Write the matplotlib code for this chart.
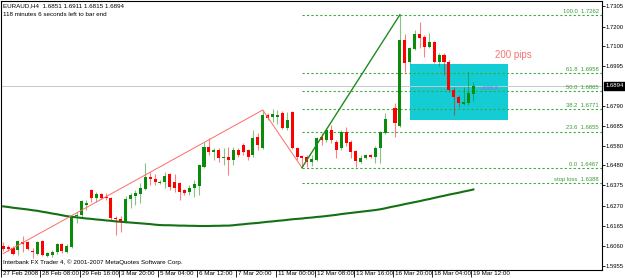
import matplotlib
matplotlib.use("Agg")
import matplotlib.pyplot as plt
import matplotlib.transforms as mtransforms
from matplotlib.patches import Rectangle

plt.rcParams['font.family'] = ['Liberation Sans', 'DejaVu Sans']

# EURAUD H4 candles (bar 0 = 27 Feb 2008 00:00)
opens = [1.6060, 1.6055, 1.6049, 1.6039, 1.6081, 1.6081, 1.6034, 1.6018, 1.6086, 1.6008,
         1.6013, 1.6029, 1.6070, 1.6029, 1.6055, 1.6216, 1.6221, 1.6273, 1.6351, 1.6309,
         1.6330, 1.6315, 1.6309, 1.6205, 1.6200, 1.6185, 1.6304, 1.6320, 1.6330, 1.6356,
         1.6419, 1.6408, 1.6387, 1.6393, 1.6434, 1.6393, 1.6387, 1.6351, 1.6341, 1.6361,
         1.6372, 1.6471, 1.6575, 1.6549, 1.6559, 1.6517, 1.6523, 1.6507, 1.6559, 1.6585,
         1.6559, 1.6533, 1.6627, 1.6569, 1.6741, 1.6731, 1.6731, 1.6751, 1.6673, 1.6757,
         1.6569, 1.6528, 1.6523, 1.6497, 1.6507, 1.6627, 1.6611, 1.6663, 1.6601, 1.6569,
         1.6653, 1.6601, 1.6554, 1.6497, 1.6517, 1.6533, 1.6523, 1.6569, 1.6647, 1.6720,
         1.6777, 1.6684, 1.7131, 1.7017, 1.7084, 1.7162, 1.7147, 1.7095, 1.7121, 1.7017,
         1.7053, 1.7017, 1.6871, 1.6835, 1.6798, 1.6803, 1.6851]
highs = [1.6081, 1.6065, 1.6060, 1.6091, 1.6112, 1.6086, 1.6049, 1.6086, 1.6091, 1.6029,
         1.6039, 1.6075, 1.6075, 1.6070, 1.6216, 1.6237, 1.6299, 1.6299, 1.6356, 1.6341,
         1.6335, 1.6335, 1.6315, 1.6216, 1.6216, 1.6320, 1.6335, 1.6351, 1.6387, 1.6491,
         1.6445, 1.6434, 1.6403, 1.6445, 1.6439, 1.6434, 1.6393, 1.6356, 1.6377, 1.6403,
         1.6486, 1.6601, 1.6621, 1.6569, 1.6569, 1.6569, 1.6575, 1.6575, 1.6569, 1.6595,
         1.6564, 1.6663, 1.6647, 1.6767, 1.6751, 1.6772, 1.6767, 1.6762, 1.6757, 1.6762,
         1.6575, 1.6533, 1.6533, 1.6533, 1.6627, 1.6647, 1.6673, 1.6689, 1.6611, 1.6663,
         1.6679, 1.6611, 1.6559, 1.6533, 1.6538, 1.6538, 1.6580, 1.6658, 1.6751, 1.6722,
         1.6803, 1.7262, 1.7162, 1.7095, 1.7183, 1.7225, 1.7157, 1.7167, 1.7126, 1.7063,
         1.7063, 1.7027, 1.6887, 1.6845, 1.6887, 1.6965, 1.6911]
lows = [1.6034, 1.6034, 1.6013, 1.6013, 1.6029, 1.6039, 1.5997, 1.6013, 1.6008, 1.6003,
        1.6003, 1.6018, 1.6023, 1.6023, 1.6049, 1.6179, 1.6211, 1.6247, 1.6289, 1.6289,
        1.6304, 1.6299, 1.6195, 1.6117, 1.6133, 1.6179, 1.6257, 1.6273, 1.6283, 1.6351,
        1.6377, 1.6377, 1.6382, 1.6361, 1.6351, 1.6341, 1.6299, 1.6325, 1.6325, 1.6315,
        1.6325, 1.6465, 1.6533, 1.6507, 1.6497, 1.6481, 1.6429, 1.6481, 1.6523, 1.6533,
        1.6507, 1.6523, 1.6559, 1.6564, 1.6715, 1.6705, 1.6694, 1.6668, 1.6663, 1.6564,
        1.6507, 1.6467, 1.6471, 1.6476, 1.6502, 1.6585, 1.6601, 1.6595, 1.6517, 1.6559,
        1.6580, 1.6517, 1.6471, 1.6491, 1.6512, 1.6517, 1.6491, 1.6491, 1.6642, 1.6718,
        1.6627, 1.6679, 1.6965, 1.7006, 1.7079, 1.7089, 1.7043, 1.7089, 1.7011, 1.6996,
        1.6949, 1.6861, 1.6741, 1.6783, 1.6793, 1.6793, 1.6815]
closes = [1.6044, 1.6044, 1.6018, 1.6086, 1.6070, 1.6044, 1.6029, 1.6081, 1.6013, 1.6023,
          1.6029, 1.6070, 1.6034, 1.6060, 1.6211, 1.6221, 1.6294, 1.6283, 1.6309, 1.6330,
          1.6309, 1.6309, 1.6205, 1.6200, 1.6190, 1.6304, 1.6325, 1.6335, 1.6361, 1.6419,
          1.6408, 1.6393, 1.6393, 1.6424, 1.6367, 1.6361, 1.6341, 1.6335, 1.6361, 1.6382,
          1.6481, 1.6575, 1.6549, 1.6559, 1.6517, 1.6523, 1.6507, 1.6559, 1.6533, 1.6549,
          1.6523, 1.6621, 1.6585, 1.6741, 1.6725, 1.6746, 1.6741, 1.6673, 1.6715, 1.6569,
          1.6523, 1.6517, 1.6497, 1.6512, 1.6621, 1.6611, 1.6663, 1.6611, 1.6559, 1.6653,
          1.6595, 1.6549, 1.6502, 1.6517, 1.6533, 1.6523, 1.6569, 1.6653, 1.6720, 1.6720,
          1.6699, 1.7131, 1.7011, 1.7089, 1.7162, 1.7141, 1.7095, 1.7121, 1.7017, 1.7053,
          1.7017, 1.6871, 1.6835, 1.6803, 1.6809, 1.6855, 1.6894]

# moving average line, read at each bar
ma = [1.6266, 1.6263, 1.6259, 1.6256, 1.6253, 1.6250, 1.6246, 1.6243, 1.6238, 1.6234,
      1.6229, 1.6225, 1.6220, 1.6215, 1.6212, 1.6209, 1.6206, 1.6203, 1.6201, 1.6198,
      1.6196, 1.6193, 1.6191, 1.6188, 1.6186, 1.6184, 1.6182, 1.6180, 1.6178, 1.6176,
      1.6174, 1.6171, 1.6169, 1.6168, 1.6168, 1.6167, 1.6166, 1.6166, 1.6165, 1.6165,
      1.6164, 1.6164, 1.6164, 1.6165, 1.6165, 1.6166, 1.6166, 1.6168, 1.6171, 1.6173,
      1.6176, 1.6178, 1.6180, 1.6183, 1.6186, 1.6188, 1.6191, 1.6193, 1.6196, 1.6199,
      1.6201, 1.6203, 1.6206, 1.6208, 1.6211, 1.6213, 1.6216, 1.6219, 1.6222, 1.6226,
      1.6229, 1.6232, 1.6235, 1.6238, 1.6241, 1.6244, 1.6247, 1.6251, 1.6256, 1.6262,
      1.6267, 1.6272, 1.6278, 1.6283, 1.6288, 1.6293, 1.6299, 1.6304, 1.6310, 1.6316,
      1.6321, 1.6327, 1.6332, 1.6337, 1.6343, 1.6348, 1.6354]

# zigzag swings (bar index, price)
red_zz_bars = [0, 53, 61]
red_zz_prices = [1.6021, 1.6767, 1.6467]
green_zz_bars = [61, 81]
green_zz_prices = [1.6467, 1.7262]

# fibonacci levels
fib_names = ["100.0", "61.8", "50.0", "38.2", "23.6", "0.0", "stop loss"]
fib_prices = [1.7262, 1.6958, 1.6865, 1.6771, 1.6655, 1.6467, 1.6388]
fib_start = 61

# target box
box_bars = (83.0, 103.1)
box_prices = (1.6715, 1.7006)

bid = 1.6894
price_ticks = [1.7305, 1.7200, 1.7100, 1.6995, 1.6790, 1.6685, 1.6580, 1.6480,
               1.6375, 1.6270, 1.6165, 1.6060, 1.5955]
time_ticks = [0, 8, 16, 24, 32, 40, 48, 56, 64, 72, 80, 88, 96]
time_labels = ["27 Feb 2008", "28 Feb 08:00", "29 Feb 16:00", "3 Mar 20:00", "5 Mar 04:00",
               "6 Mar 12:00", "7 Mar 20:00", "11 Mar 00:00", "12 Mar 08:00", "13 Mar 16:00",
               "16 Mar 20:00", "18 Mar 04:00", "19 Mar 12:00"]

W, H = 625, 278
fig = plt.figure(figsize=(W / 100, H / 100), dpi=100)
ax = fig.add_axes([0.5 / W, 8.5 / H, 601.2 / W, 269 / H])
ax.set_xlim(-0.55, 122.2)
ax.set_ylim(1.5938, 1.7336)

ax.add_patch(Rectangle((box_bars[0], box_prices[0]), box_bars[1] - box_bars[0],
                       box_prices[1] - box_prices[0], facecolor='#14CCD4',
                       edgecolor='none', zorder=1))

for name, p in zip(fib_names, fib_prices):
    ax.plot([fib_start, 122.2], [p, p], color='#3DAA3D', lw=0.8,
            linestyle=(0, (2, 2)), zorder=2)
    ax.text(121.6, p + 0.0006, f"{name}  {p:.4f}", fontsize=4.2, color='#3A9A3A',
            ha='right', va='bottom', zorder=6)

ax.axhline(bid, color='#C8C8C8', lw=0.7, zorder=2)

bars = range(len(opens))
ax.plot(list(bars), ma, color='#137013', lw=1.5, zorder=3)

green_c = '#0B8A0B'
red_c = '#FF0000'
for i, o, h, l, c in zip(bars, opens, highs, lows, closes):
    if c > o:
        col = green_c
    elif c < o:
        col = red_c
    else:
        col = '#808080'
    ax.vlines(i, l, h, color=col, lw=0.8, alpha=0.5, zorder=4)
    ax.bar(i, max(abs(c - o), 0.00025), bottom=min(o, c), width=0.62,
           color=col, linewidth=0, zorder=5)

ax.plot(red_zz_bars, red_zz_prices, color='#FF6A6A', lw=0.7, zorder=6)
ax.plot(green_zz_bars, green_zz_prices, color='#1E8C1E', lw=1.0, zorder=6)

ax.text(100.5, 1.7053, "200 pips", fontsize=7, color='#F07575', ha='left', va='center', zorder=7)
ax.text(97.2, 1.6879, "<198.8", fontsize=4.5, color='#8C6CF0', ha='left', va='center', zorder=7)

# axes styling
for s in ax.spines.values():
    s.set_linewidth(0.8)
    s.set_color('black')
ax.yaxis.tick_right()
ax.set_yticks(price_ticks)
ax.set_yticklabels([f"{p:.4f}" for p in price_ticks])
ax.tick_params(axis='y', which='both', length=2, width=0.6, pad=1, labelsize=4.2)
ax.set_xticks([t - 0.4 for t in time_ticks])
ax.set_xticklabels(time_labels)
ax.tick_params(axis='x', length=5, width=0.6, pad=-4.2, labelsize=4.5)
shift = mtransforms.ScaledTranslation(2 / 100, 0, fig.dpi_scale_trans)
for lab in ax.get_xticklabels():
    lab.set_horizontalalignment('left')
    lab.set_transform(lab.get_transform() + shift)

ax.annotate(f"{bid:.4f}", xy=(1.0, bid), xycoords=('axes fraction', 'data'),
            xytext=(3, 0), textcoords='offset points', fontsize=4.3, color='white',
            ha='left', va='center', annotation_clip=False,
            bbox=dict(boxstyle='square,pad=0.25', facecolor='black', edgecolor='black'))

fig.text(3 / W, 1 - 6 / H, "EURAUD,H4  1.6851 1.6911 1.6815 1.6894", fontsize=4.5,
         ha='left', va='center')
fig.text(3 / W, 1 - 14 / H, "118 minutes 6 seconds left to bar end", fontsize=4.5,
         ha='left', va='center')
fig.text(3 / W, 1 - 262 / H, "Interbank FX Trader 4, \u00a9 2001-2007 MetaQuotes Software Corp.",
         fontsize=4.5, ha='left', va='center')

fig.savefig('out.png', dpi=100)
